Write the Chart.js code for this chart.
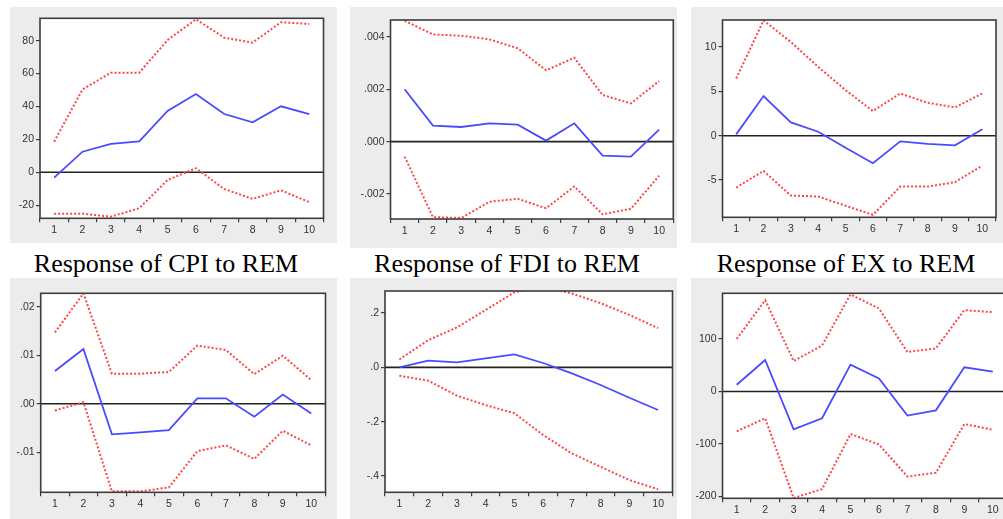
<!DOCTYPE html>
<html>
<head>
<meta charset="utf-8">
<script src="https://cdn.jsdelivr.net/npm/chart.js@4/dist/chart.umd.min.js"></script>
<style>
  body { margin: 0; width: 1003px; height: 519px; overflow: hidden; background: #fff; position: relative; }
  .panel { position: absolute; background: #ececec; }
  .title { position: absolute; top: 251px; font-family: "Liberation Serif", "Times New Roman", serif; font-size: 26px; line-height: 26px; white-space: nowrap; transform: translateX(-50%); color: #000; }
</style>
</head>
<body>
<canvas id="c1" class="panel"></canvas>
<canvas id="c2" class="panel"></canvas>
<canvas id="c3" class="panel"></canvas>
<canvas id="c4" class="panel"></canvas>
<canvas id="c5" class="panel"></canvas>
<canvas id="c6" class="panel"></canvas>
<div class="title" style="left:166px">Response of CPI to REM</div>
<div class="title" style="left:507px">Response of FDI to REM</div>
<div class="title" style="left:846px">Response of EX to REM</div>
<script>
// periods after the shock
const periods = ["1", "2", "3", "4", "5", "6", "7", "8", "9", "10"];

// CPI to REM
const cpiMid = [-3.3, 12.5, 17.2, 18.8, 37.3, 47.6, 35.4, 30.4, 40.1, 35.3];
const cpiHi = [18.6, 50.4, 60.5, 60.5, 80.4, 93, 81.8, 78.8, 91.2, 90.1];
const cpiLo = [-25.2, -25.2, -27, -21.9, -4.7, 2.4, -10.2, -16.2, -11, -18.2];
const cpiTicks = [-20, 0, 20, 40, 60, 80];
const cpiTickLabels = ["-20", "0", "20", "40", "60", "80"];

// FDI to REM
const fdiMid = [0.002, 0.00061, 0.00056, 0.0007, 0.00065, 0.00004, 0.0007, -0.00053, -0.00057, 0.00046];
const fdiHi = [0.00461, 0.00409, 0.00404, 0.0039, 0.00356, 0.00272, 0.0032, 0.00178, 0.00146, 0.00231];
const fdiLo = [-0.00057, -0.00288, -0.00291, -0.00229, -0.00218, -0.00254, -0.00171, -0.00277, -0.00256, -0.0013];
const fdiTicks = [-0.002, 0, 0.002, 0.004];
const fdiTickLabels = ["-.002", ".000", ".002", ".004"];

// EX to REM
const exMid = [0.15, 4.47, 1.5, 0.45, -1.35, -3.1, -0.63, -0.93, -1.08, 0.72];
const exHi = [6.45, 13.0, 10.57, 7.76, 5.14, 2.78, 4.77, 3.71, 3.19, 4.77];
const exLo = [-5.85, -3.97, -6.75, -6.86, -7.9, -8.92, -5.74, -5.74, -5.24, -3.37];
const exTicks = [-5, 0, 5, 10];
const exTickLabels = ["-5", "0", "5", "10"];

// second row
const r2aMid = [0.00676, 0.0113, -0.00634, -0.00593, -0.00545, 0.0011, 0.0011, -0.0027, 0.0019, -0.002];
const r2aHi = [0.0147, 0.0228, 0.0062, 0.0062, 0.00655, 0.012, 0.0111, 0.0061, 0.0099, 0.0049];
const r2aLo = [-0.0014, 0.0003, -0.0181, -0.0181, -0.0173, -0.0098, -0.0086, -0.0114, -0.0056, -0.0086];
const r2aTicks = [-0.01, 0, 0.01, 0.02];
const r2aTickLabels = ["-.01", ".00", ".01", ".02"];

const r2bMid = [0.0, 0.0245, 0.018, 0.033, 0.048, 0.016, -0.022, -0.065, -0.112, -0.157];
const r2bHi = [0.029, 0.1, 0.147, 0.211, 0.276, 0.296, 0.272, 0.236, 0.193, 0.144];
const r2bLo = [-0.031, -0.049, -0.104, -0.139, -0.169, -0.249, -0.317, -0.366, -0.415, -0.449];
const r2bTicks = [-0.4, -0.2, 0, 0.2];
const r2bTickLabels = ["-.4", "-.2", ".0", ".2"];

const r2cMid = [12.7, 60, -72, -51, 51, 25, -46, -36, 46, 38];
const r2cHi = [100, 174, 58, 87.5, 185, 158, 75, 82, 155, 151];
const r2cLo = [-76, -51, -203, -186, -81, -101, -162, -155, -62, -73];
const r2cTicks = [-200, -100, 0, 100];
const r2cTickLabels = ["-200", "-100", "0", "100"];

const red = "#ff4545";
const blue = "#4a4aff";
const axisCol = "#3c3c3c";
const tickFont = { family: "Liberation Sans, Arial, sans-serif", size: 10.5 };
const xAxisH = 16;

// frame round the plot + zero line
const framePlugin = {
  id: "frame",
  beforeDatasetsDraw(chart) {
    const a = chart.chartArea;
    const y0 = chart.scales.y.getPixelForValue(0);
    const ctx = chart.ctx;
    ctx.save();
    ctx.fillStyle = "#fff";
    ctx.fillRect(a.left, a.top, a.right - a.left, a.bottom - a.top);
    ctx.strokeStyle = "#222";
    ctx.lineWidth = 1.6;
    ctx.beginPath();
    ctx.moveTo(a.left, y0);
    ctx.lineTo(a.right, y0);
    ctx.stroke();
    ctx.restore();
  },
  afterDatasetsDraw(chart) {
    const a = chart.chartArea;
    const ctx = chart.ctx;
    ctx.save();
    ctx.strokeStyle = axisCol;
    ctx.lineWidth = 1.6;
    ctx.strokeRect(a.left, a.top, a.right - a.left, a.bottom - a.top);
    ctx.restore();
  }
};

function makePanel(id, x, y, w, h, box, min, max, ticks, tickLabels, mid, hi, lo) {
  const cv = document.getElementById(id);
  cv.width = w;
  cv.height = h;
  cv.style.left = x + "px";
  cv.style.top = y + "px";
  cv.style.width = w + "px";
  cv.style.height = h + "px";
  const band = (d) => ({
    data: d, borderColor: red, borderWidth: 2, borderDash: [2, 2],
    pointRadius: 0, tension: 0, fill: false
  });
  return new Chart(cv, {
    type: "line",
    data: {
      labels: periods,
      datasets: [
        band(hi),
        band(lo),
        { data: mid, borderColor: blue, borderWidth: 1.8, pointRadius: 0, tension: 0, fill: false }
      ]
    },
    options: {
      responsive: false,
      animation: false,
      events: [],
      layout: { padding: { left: 0, top: box[1], right: w - box[2], bottom: h - box[3] - xAxisH } },
      plugins: { legend: { display: false }, tooltip: { enabled: false } },
      scales: {
        x: {
          offset: true,
          grid: { offset: true, drawOnChartArea: false, drawTicks: true, tickLength: 4, color: axisCol, lineWidth: 1.2 },
          border: { display: false },
          ticks: { color: "#333", font: tickFont, padding: 2, maxRotation: 0, autoSkip: false },
          afterFit: (s) => { s.height = xAxisH; }
        },
        y: {
          min: min,
          max: max,
          afterBuildTicks: (s) => { s.ticks = ticks.map((v) => ({ value: v })); },
          grid: { drawOnChartArea: false, drawTicks: true, tickLength: 4, color: axisCol, lineWidth: 1.2 },
          border: { display: false },
          ticks: { color: "#333", font: tickFont, padding: 2, callback: (v, i) => tickLabels[i] },
          afterFit: (s) => { s.width = box[0]; }
        }
      }
    },
    plugins: [framePlugin]
  });
}

makePanel("c1", 10, 7, 327, 236, [30, 11.3, 313.5, 211.3], -28, 93.6, cpiTicks, cpiTickLabels, cpiMid, cpiHi, cpiLo);
makePanel("c2", 350, 7, 327, 241, [40.5, 13, 323.3, 212], -0.00295, 0.00464, fdiTicks, fdiTickLabels, fdiMid, fdiHi, fdiLo);
makePanel("c3", 691, 7, 312, 236, [31.5, 13, 305, 210.3], -9.2, 13.05, exTicks, exTickLabels, exMid, exHi, exLo);
makePanel("c4", 10, 278, 327, 241, [30.7, 15.3, 315.5, 214.3], -0.0183, 0.0228, r2aTicks, r2aTickLabels, r2aMid, r2aHi, r2aLo);
makePanel("c5", 350, 278, 327, 241, [35, 13, 322.5, 214.3], -0.46, 0.281, r2bTicks, r2bTickLabels, r2bMid, r2bHi, r2bLo);
makePanel("c6", 691, 278, 320, 241, [31.5, 15.3, 316, 220.3], -203.5, 187, r2cTicks, r2cTickLabels, r2cMid, r2cHi, r2cLo);
</script>
</body>
</html>
